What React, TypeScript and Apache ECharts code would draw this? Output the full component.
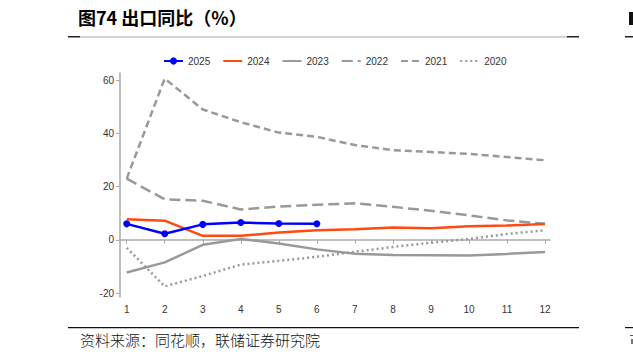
import React, { useEffect, useRef } from "react";
import * as echarts from "echarts";

const months = [1, 2, 3, 4, 5, 6, 7, 8, 9, 10, 11, 12];
const xTicks = [1, 2, 3, 4, 5, 6, 7, 8, 9, 10, 11, 12];
const yTicks = [-20, 0, 20, 40, 60];
const years = ["2025", "2024", "2023", "2022", "2021", "2020"];

const s2025 = [6.0, 2.3, 5.8, 6.5, 6.1, 6.0];
const s2024 = [7.7, 7.2, 1.5, 1.5, 2.7, 3.6, 4.0, 4.6, 4.3, 5.1, 5.4, 5.9];
const s2023 = [-12.3, -8.5, -1.9, 0.3, -1.4, -3.6, -5.2, -5.7, -5.8, -5.9, -5.3, -4.6];
const s2022 = [23.0, 15.2, 14.7, 11.4, 12.5, 13.2, 13.7, 12.4, 10.9, 9.2, 7.3, 6.0];
const s2021 = [23.0, 60.6, 49.0, 44.2, 40.3, 38.7, 35.6, 33.7, 33.0, 32.3, 31.1, 29.9];
const s2020 = [-3.0, -17.5, -13.6, -9.3, -7.9, -6.4, -4.5, -2.7, -1.1, 0.3, 2.2, 3.6];

const title = "图74 出口同比（%）";
const source = "资料来源：同花顺，联储证券研究院";

const pair = (arr: number[]) => arr.map((v, i) => [months[i], v]);

export default function App() {
  const ref = useRef<HTMLDivElement>(null);
  useEffect(() => {
    document.body.style.margin = "0";
    const chart = echarts.init(ref.current!, null, { renderer: "svg" });
    const gray = "#999999";
    const lw = 2.5;
    const cjk = "Noto Sans CJK SC, sans-serif";
    chart.setOption({
      animation: false,
      backgroundColor: "#ffffff",
      textStyle: { fontFamily: "Liberation Sans, Arial, sans-serif" },
      legend: {
        top: 56,
        left: 163,
        padding: 0,
        itemWidth: 19,
        itemHeight: 9,
        itemGap: 12,
        textStyle: { fontSize: 10, color: "#333" },
        data: years.map((y) => (y === "2025" ? { name: y } : { name: y, itemStyle: { opacity: 0 } })),
      },
      grid: { left: 120, top: 73, width: 430, height: 224 },
      xAxis: {
        type: "value",
        min: 0.824,
        max: 12.13,
        splitLine: { show: false },
        axisLine: { lineStyle: { color: "#aaaaaa", width: 1.5 } },
        axisTick: { customValues: xTicks, length: 4, lineStyle: { color: "#aaaaaa" } },
        axisLabel: { customValues: xTicks, fontSize: 10, color: "#333", margin: 7 },
      },
      yAxis: {
        type: "value",
        min: -21.5,
        max: 62.7,
        splitLine: { show: false },
        axisLine: { show: true, lineStyle: { color: "#aaaaaa", width: 1.5 } },
        axisTick: { show: true, customValues: yTicks, length: 4, lineStyle: { color: "#aaaaaa" } },
        axisLabel: { customValues: yTicks, fontSize: 10, color: "#333", margin: 6 },
      },
      series: [
        {
          name: "2025", type: "line", data: pair(s2025), z: 10,
          symbol: "circle", symbolSize: 7,
          lineStyle: { color: "#0000ff", width: lw }, itemStyle: { color: "#0000ff" },
        },
        {
          name: "2024", type: "line", data: pair(s2024), z: 9, symbol: "none",
          lineStyle: { color: "#ff4a12", width: lw }, itemStyle: { color: "#ff4a12" },
        },
        {
          name: "2023", type: "line", data: pair(s2023), symbol: "none",
          lineStyle: { color: gray, width: lw }, itemStyle: { color: gray },
        },
        {
          name: "2022", type: "line", data: pair(s2022), symbol: "none",
          lineStyle: { color: gray, width: lw, type: [11, 5] }, itemStyle: { color: gray },
        },
        {
          name: "2021", type: "line", data: pair(s2021), symbol: "none",
          lineStyle: { color: gray, width: lw, type: [7, 4] }, itemStyle: { color: gray },
        },
        {
          name: "2020", type: "line", data: pair(s2020), symbol: "none",
          lineStyle: { color: gray, width: lw, type: [2, 3] }, itemStyle: { color: gray },
        },
      ],
      graphic: [
        {
          type: "text", left: 78, top: 8,
          style: { text: title, fontSize: 18, fontWeight: "bold", fill: "#000", fontFamily: cjk },
        },
        { type: "rect", shape: { x: 68, y: 36, width: 12, height: 1.5 }, style: { fill: "#222" } },
        { type: "rect", shape: { x: 80, y: 36.5, width: 487, height: 1 }, style: { fill: "#aaa" } },
        { type: "rect", shape: { x: 567, y: 36, width: 12, height: 1.5 }, style: { fill: "#222" } },
        { type: "rect", shape: { x: 625, y: 36, width: 8, height: 1.5 }, style: { fill: "#222" } },
        { type: "rect", shape: { x: 629, y: 12, width: 4, height: 13 }, style: { fill: "#111" } },
        { type: "rect", shape: { x: 68, y: 327, width: 511, height: 1.2 }, style: { fill: "#111" } },
        { type: "rect", shape: { x: 625, y: 327, width: 8, height: 1.2 }, style: { fill: "#111" } },
        { type: "rect", shape: { x: 630, y: 335, width: 3, height: 1 }, style: { fill: "#555" } },
        { type: "rect", shape: { x: 631, y: 339, width: 2, height: 5 }, style: { fill: "#777" } },
        {
          type: "text", left: 80, top: 332,
          style: { text: source, fontSize: 15, fill: "#111", fontFamily: cjk, fontWeight: 300 },
        },
      ],
    });
    return () => chart.dispose();
  }, []);
  return <div ref={ref} style={{ width: 633, height: 358 }} />;
}
